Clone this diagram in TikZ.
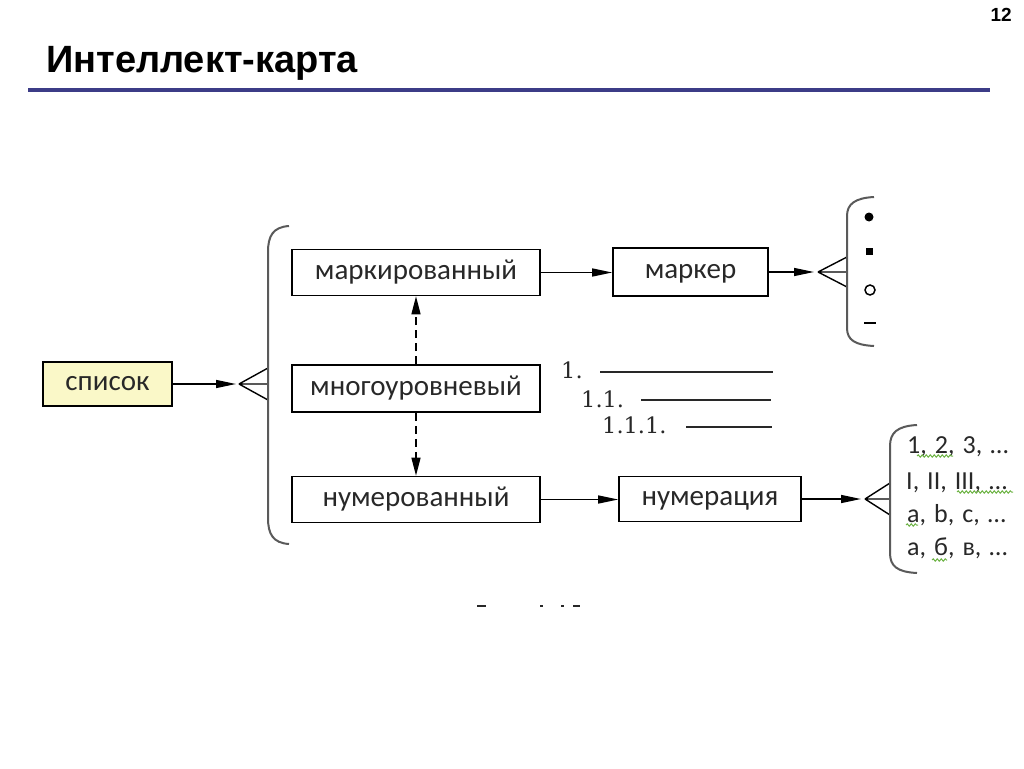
\documentclass[tikz,border=0pt]{standalone}
\usepackage{fontspec}
\setmainfont{Carlito}
\newfontfamily\titlefont{Liberation Sans}
\newfontfamily\numfont{DejaVu Serif}
\usetikzlibrary{arrows.meta,decorations.pathmorphing}
\definecolor{barblue}{RGB}{60,60,135}
\definecolor{paleyellow}{RGB}{250,248,200}
\definecolor{txt}{RGB}{40,40,40}
\definecolor{bracegray}{RGB}{90,90,90}
\definecolor{squig}{RGB}{110,180,70}
\newcommand\widespaces{\spaceskip=8pt\relax}
\tikzset{
  box/.style={draw=black, line width=1.6pt, inner sep=0pt, text=txt,
    text height=20.5pt, text depth=7pt,
    font=\fontsize{29}{32}\selectfont},
  conn/.style={line width=1.4pt, -{Triangle[length=20pt,width=8pt]}},
  dconn/.style={line width=1.4pt, dash pattern=on 8pt off 5pt, -{Triangle[length=18pt,width=9pt]}},
  crow/.style={line width=1.4pt},
  brace/.style={draw=bracegray, line width=2pt},
  numtxt/.style={anchor=base west, inner sep=0pt, text=txt, font=\numfont\fontsize{22.5}{26}\selectfont},
  listtxt/.style={anchor=base west, inner sep=0pt, text=txt, font=\fontsize{26}{30}\selectfont, execute at begin node=\widespaces},
  rule/.style={line width=1.4pt, draw=txt},
  wavy/.style={draw=squig, line width=1pt, decorate, decoration={snake, amplitude=1.2pt, segment length=4pt}}
}
\begin{document}
\begin{tikzpicture}[x=1pt,y=-1pt]
\useasboundingbox (0,0) rectangle (1024,768);
\fill[white] (0,0) rectangle (1024,768);

% header
\node[anchor=base east, inner sep=0pt, font=\titlefont\bfseries\fontsize{19}{22}\selectfont] (pagenum) at (1012,22) {12};
\node[anchor=base west, inner sep=0pt, font=\titlefont\bfseries\fontsize{38}{44}\selectfont] (title) at (46,72) {Интеллект-карта};
\fill[barblue] (28,88) rectangle (990,92);

% main boxes
\node[box, fill=paleyellow, minimum width=129pt, minimum height=44pt] (spisok) at (107.5,384) {список};
\node[box, minimum width=248pt, minimum height=46pt] (mark) at (416,272.5) {маркированный};
\node[box, minimum width=248pt, minimum height=47pt] (multi) at (416,388.5) {многоуровневый};
\node[box, minimum width=248pt, minimum height=46pt] (num) at (416,499.5) {нумерованный};
\node[box, minimum width=155pt, minimum height=48pt] (marker) at (690.5,272) {маркер};
\node[box, minimum width=182pt, minimum height=45pt] (numer) at (710,499) {нумерация};

% crow feet coordinates
\coordinate (tipA) at (236,384);
\coordinate (vA) at (239,384);
\coordinate (tipB) at (814,272);
\coordinate (vB) at (818,272);
\coordinate (tipC) at (861,499);
\coordinate (vC) at (865,499);

% connectors
\draw[conn] (spisok.east) -- (tipA);
\draw[crow] (vA) -- (268,368) (vA) -- (268,384) (vA) -- (268,400);
\draw[conn] (mark.east) -- (mark.east -| marker.west);
\draw[conn] (marker.east) -- (tipB);
\draw[crow] (vB) -- (847,257) (vB) -- (847,272) (vB) -- (847,287);
\draw[conn] (num.east) -- (num.east -| numer.west);
\draw[conn] (numer.east) -- (tipC);
\draw[crow] (vC) -- (890,483) (vC) -- (890,499) (vC) -- (890,515);
\draw[dconn] (multi.north) -- (mark.south);
\draw[dconn] (multi.south) -- (num.north);

% braces
\draw[brace] (289,226) .. controls (273,227) and (268,236) .. (268,252) -- (268,518) .. controls (268,534) and (273,543) .. (289,544);
\draw[brace] (874,197) .. controls (855,198) and (847,204) .. (847,216) -- (847,328) .. controls (847,340) and (855,345) .. (874,346);
\draw[brace] (917,425) .. controls (897,426) and (890,433) .. (890,446) -- (890,553) .. controls (890,566) and (897,572) .. (917,573);

% marker symbols
\fill[black] (869,217) circle (4.5pt);
\fill[black] (865.5,247.5) rectangle (872.5,254.5);
\draw[line width=1.5pt] (870,290) circle (5pt);
\draw[line width=1.5pt] (864,323) -- (876,323);

% multilevel sample
\node[numtxt] (n1) at (561,378) {1.};
\node[numtxt] (n11) at (581,407) {1.1.};
\node[numtxt] (n111) at (602,433) {1.1.1.};
\draw[rule] (600,372) -- (773,372);
\draw[rule] (641,400) -- (771,400);
\draw[rule] (686,427) -- (772,427);

% numbering list
\node[listtxt] (l1) at (907,453) {1, 2, 3, …};
\node[listtxt] (l2) at (906,489) {I, II, III, …};
\node[listtxt] (l3) at (907,522) {a, b, c, …};
\node[listtxt] (l4) at (907,555) {а, б, в, …};
\draw[wavy] (917,456) -- (953,456);
\draw[wavy] (957,492) -- (1013,492);
\draw[wavy] (906,525) -- (918,525);
\draw[wavy] (932,560) -- (947,560);

% cut-off caption fragments
\draw[line width=2pt, draw=txt] (477,606) -- (486,606);
\draw[line width=2pt, draw=txt] (540,606) -- (543,606);
\draw[line width=2pt, draw=txt] (561,606) -- (564,606);
\draw[line width=2pt, draw=txt] (573,606) -- (580,606);
\end{tikzpicture}
\end{document}
